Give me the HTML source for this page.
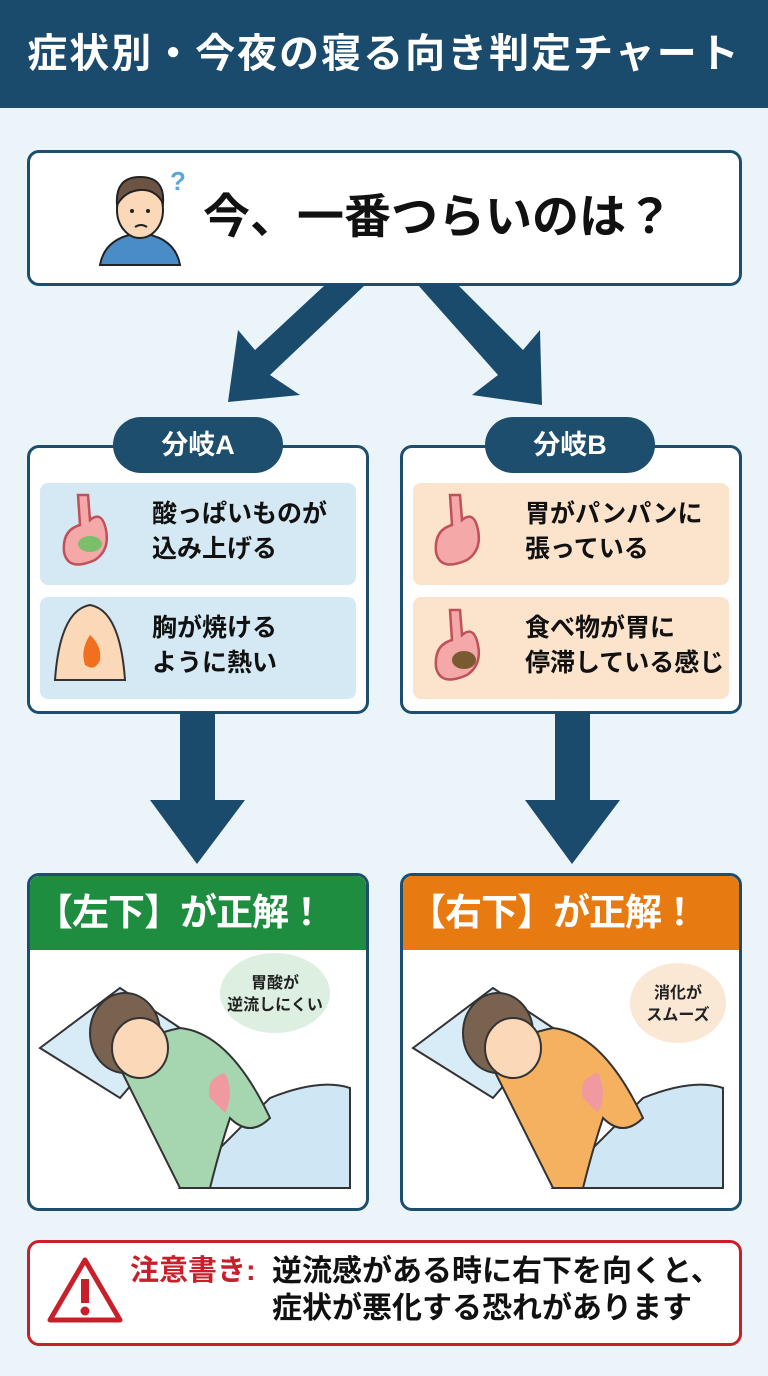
<!DOCTYPE html>
<html><head><meta charset="utf-8"><style>
*{margin:0;padding:0;box-sizing:border-box}
body{width:768px;height:1376px;background:#eaf4f9;font-family:"Liberation Sans","Noto Sans CJK JP",sans-serif;position:relative;overflow:hidden;font-weight:bold}
.a{position:absolute}
.box{position:absolute;border:3px solid #1d4e6e;border-radius:12px;background:#fff}
.pill{position:absolute;background:#1d4e6e;color:#fff;border-radius:28px;font-size:27px;text-align:center;line-height:56px}
.item{position:absolute;border-radius:8px;font-size:25px;line-height:35px;color:#111}
.blue{background:#d5e9f5}.peach{background:#fbe3cc}
.item span{position:absolute;left:112px;top:14px;white-space:nowrap}
.rh{position:absolute;left:0;top:0;right:0;height:74px;color:#fff;font-size:37px;line-height:74px;padding-left:6px;border-radius:9px 9px 0 0;letter-spacing:-1px;white-space:nowrap}
</style></head><body>
<div class="a" style="left:0;top:0;width:768px;height:108px;background:#1b4b6c;color:#fff;font-size:40px;line-height:108px;text-align:center;letter-spacing:2px;white-space:nowrap">症状別・今夜の寝る向き判定チャート</div>

<div class="box" style="left:27px;top:150px;width:715px;height:136px"></div>
<svg class="a" style="left:95px;top:165px" width="100" height="105" viewBox="0 0 100 105">
<path d="M5 100 Q10 72 45 68 Q80 72 85 100Z" fill="#4a8cc5" stroke="#222" stroke-width="2"/>
<ellipse cx="45" cy="45" rx="23" ry="28" fill="#fbd8b8" stroke="#222" stroke-width="2"/>
<path d="M22 40 Q20 12 45 12 Q70 12 68 38 Q60 24 45 25 Q30 26 22 40Z" fill="#6b5444" stroke="#222" stroke-width="2"/>
<circle cx="37" cy="46" r="2" fill="#222"/><circle cx="53" cy="46" r="2" fill="#222"/>
<path d="M40 62 Q46 58 52 62" stroke="#222" fill="none" stroke-width="2"/>
<text x="75" y="25" font-size="26" fill="#5aa8d6" font-family="Liberation Sans">?</text>
</svg>
<div class="a" style="left:203px;top:186px;font-size:47px;line-height:62px;color:#111;white-space:nowrap">今、一番つらいのは？</div>

<svg class="a" style="left:0;top:280px" width="768" height="130">
<polygon points="325,5 365,5 270,95 300,115 228,122 238,50 255,70" fill="#1b4b6c"/>
<polygon points="418,5 458,5 523,70 540,50 542,125 472,115 498,95" fill="#1b4b6c"/>
</svg>

<div class="box" style="left:27px;top:445px;width:342px;height:269px"></div>
<div class="box" style="left:400px;top:445px;width:342px;height:269px"></div>
<div class="pill" style="left:113px;top:417px;width:170px">分岐A</div>
<div class="pill" style="left:485px;top:417px;width:170px">分岐B</div>

<div class="item blue" style="left:40px;top:483px;width:316px;height:102px"><span>酸っぱいものが<br>込み上げる</span></div>
<div class="item blue" style="left:40px;top:597px;width:316px;height:102px"><span>胸が焼ける<br>ように熱い</span></div>
<div class="item peach" style="left:413px;top:483px;width:316px;height:102px"><span>胃がパンパンに<br>張っている</span></div>
<div class="item peach" style="left:413px;top:597px;width:316px;height:102px"><span>食べ物が胃に<br>停滞している感じ</span></div>
<svg class="a" style="left:0;top:480px" width="768" height="230">
<g stroke="#c0505a" stroke-width="2.5" fill="#f4a8a8">
<path d="M78 15 L80 45 Q62 50 64 72 Q68 92 95 80 Q110 70 106 50 Q102 30 90 40 L88 15Z"/>
<path d="M450 15 L452 45 Q434 50 436 72 Q440 92 467 80 Q482 70 478 50 Q474 30 462 40 L460 15Z"/>
<path d="M450 130 L452 160 Q434 165 436 187 Q440 207 467 195 Q482 185 478 165 Q474 145 462 155 L460 130Z"/>
</g>
<ellipse cx="90" cy="64" rx="12" ry="8" fill="#7cbf6a"/>
<ellipse cx="464" cy="180" rx="12" ry="9" fill="#7a5a30"/>
<path d="M55 200 Q60 130 90 125 Q120 130 125 200Z" fill="#fbd8b8" stroke="#333" stroke-width="2"/>
<path d="M90 155 Q80 170 85 185 Q95 192 100 180 Q102 166 90 155Z" fill="#f07020"/>
</svg>

<svg class="a" style="left:0;top:712px" width="768" height="160">
<polygon points="180,0 215,0 215,88 245,88 197,152 150,88 180,88" fill="#1b4b6c"/>
<polygon points="555,0 590,0 590,88 620,88 572,152 525,88 555,88" fill="#1b4b6c"/>
</svg>

<div class="box" style="left:27px;top:873px;width:342px;height:338px;overflow:hidden"><div class="rh" style="background:#1e8d3f">【左下】が正解！</div></div>
<div class="box" style="left:400px;top:873px;width:342px;height:338px;overflow:hidden"><div class="rh" style="background:#e87a12">【右下】が正解！</div></div>

<svg class="a" style="left:30px;top:948px" width="336" height="260">
<path d="M10 100 L90 40 L150 80 L90 150Z" fill="#d8ecf8" stroke="#333" stroke-width="2"/>
<path d="M150 240 L240 150 Q290 130 320 140 L320 240Z" fill="#cfe6f5" stroke="#333" stroke-width="2"/>
<path d="M90 120 Q100 90 150 80 Q200 85 240 170 Q220 190 200 170 Q190 200 180 240 L150 240 Q120 180 90 120Z" fill="#a6d6b0" stroke="#333" stroke-width="2"/>
<ellipse cx="95" cy="85" rx="35" ry="40" fill="#7a6250" stroke="#333" stroke-width="2"/>
<ellipse cx="110" cy="100" rx="28" ry="30" fill="#fbd8b8" stroke="#333" stroke-width="2"/>
<ellipse cx="245" cy="45" rx="55" ry="40" fill="#dcefe0"/>
<text x="245" y="40" font-size="16" text-anchor="middle" fill="#222" font-family="Liberation Sans,Noto Sans CJK JP" font-weight="bold">胃酸が</text>
<text x="245" y="62" font-size="16" text-anchor="middle" fill="#222" font-family="Liberation Sans,Noto Sans CJK JP" font-weight="bold">逆流しにくい</text>
<path d="M180 150 Q175 130 195 125 Q205 145 195 165Z" fill="#f09aa0"/>
</svg>
<svg class="a" style="left:403px;top:948px" width="336" height="260">
<path d="M10 100 L90 40 L150 80 L90 150Z" fill="#d8ecf8" stroke="#333" stroke-width="2"/>
<path d="M150 240 L240 150 Q290 130 320 140 L320 240Z" fill="#cfe6f5" stroke="#333" stroke-width="2"/>
<path d="M90 120 Q100 90 150 80 Q200 85 240 170 Q220 190 200 170 Q190 200 180 240 L150 240 Q120 180 90 120Z" fill="#f5b060" stroke="#333" stroke-width="2"/>
<ellipse cx="95" cy="85" rx="35" ry="40" fill="#7a6250" stroke="#333" stroke-width="2"/>
<ellipse cx="110" cy="100" rx="28" ry="30" fill="#fbd8b8" stroke="#333" stroke-width="2"/>
<ellipse cx="275" cy="55" rx="48" ry="40" fill="#fbe8d4"/>
<text x="275" y="50" font-size="16" text-anchor="middle" fill="#222" font-family="Liberation Sans,Noto Sans CJK JP" font-weight="bold">消化が</text>
<text x="275" y="72" font-size="16" text-anchor="middle" fill="#222" font-family="Liberation Sans,Noto Sans CJK JP" font-weight="bold">スムーズ</text>
<path d="M180 150 Q175 130 195 125 Q205 145 195 165Z" fill="#f09aa0"/>
</svg>

<div class="a" style="left:27px;top:1240px;width:715px;height:106px;border:3px solid #c8202a;border-radius:12px;background:#fff"></div>
<svg class="a" style="left:46px;top:1255px" width="78" height="70"><polygon points="39,5 74,65 4,65" fill="#fff" stroke="#c8202a" stroke-width="5" stroke-linejoin="round"/><rect x="35" y="24" width="8" height="24" fill="#c8202a"/><circle cx="39" cy="56" r="4.5" fill="#c8202a"/></svg>
<div class="a" style="left:130px;top:1253px;font-size:29px;line-height:37px;color:#c8202a;white-space:nowrap">注意書き:</div>
<div class="a" style="left:272px;top:1253px;font-size:30px;line-height:37px;color:#111;white-space:nowrap;letter-spacing:0">逆流感がある時に右下を向くと、<br>症状が悪化する恐れがあります</div>
</body></html>
